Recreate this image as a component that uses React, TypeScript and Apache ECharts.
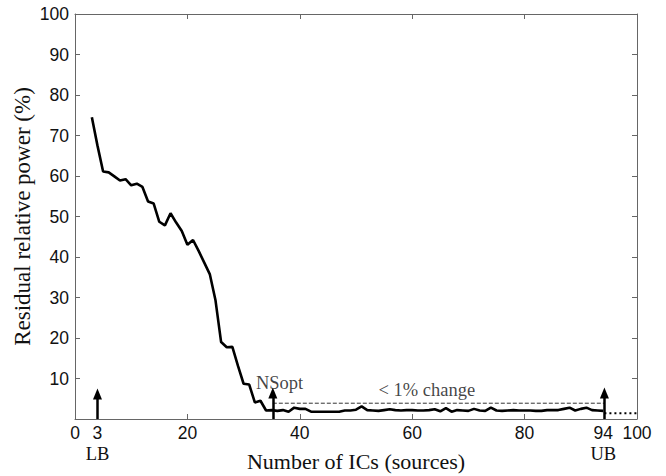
import React, { useEffect, useRef } from "react";
import * as echarts from "echarts";

const xValues = [
  3, 4, 5, 6, 7, 8, 9, 10, 11, 12, 13, 14, 15, 16, 17, 18, 19, 20, 21, 22, 23, 24,
  25, 26, 27, 28, 29, 30, 31, 32, 33, 34, 35, 36, 37, 38, 39, 40, 41, 42, 43, 44,
  45, 46, 47, 48, 49, 50, 51, 52, 53, 54, 55, 56, 57, 58, 59, 60, 61, 62, 63, 64,
  65, 66, 67, 68, 69, 70, 71, 72, 73, 74, 75, 76, 77, 78, 79, 80, 81, 82, 83, 84,
  85, 86, 87, 88, 89, 90, 91, 92, 93, 94,
];
const residualPower = [
  74.5, 67.5, 61.1, 60.9, 59.9, 58.9, 59.2, 57.7, 58.1, 57.3, 53.7, 53.2, 48.7, 47.8,
  50.8, 48.5, 46.4, 43.0, 44.2, 41.5, 38.6, 35.7, 29.3, 19.0, 17.7, 17.8, 13.1, 8.7,
  8.5, 4.1, 4.5, 2.1, 2.2, 2.0, 2.2, 1.8, 2.8, 2.5, 2.5, 1.8, 1.8, 1.8, 1.8, 1.8, 1.8,
  2.1, 2.1, 2.3, 3.1, 2.2, 2.1, 2.0, 2.2, 2.4, 2.2, 2.1, 2.2, 2.2, 2.1, 2.1, 2.2, 2.4,
  1.9, 2.7, 1.8, 2.2, 2.1, 2.0, 2.5, 2.1, 2.0, 2.8, 2.1, 2.0, 2.1, 2.2, 2.1, 2.1, 2.1,
  2.0, 2.0, 2.2, 2.2, 2.2, 2.5, 2.8, 2.1, 2.5, 2.8, 2.2, 2.1, 2.0,
];

const xTickLabels = [0, 4, 20, 40, 60, 80, 94, 100];
const xTickText: Record<number, string> = { 0: "0", 4: "3\n{s|LB}", 20: "20", 40: "40", 60: "60", 80: "80", 94: "94\n{s|UB}", 100: "100" };
const xTickMarks = [20, 40, 60, 80];

// arrows: [x, tipY]
const arrows = [
  [4, 6.2],
  [35.2, 6.4],
  [94.2, 6.4],
];
const thresholdLine = [
  [35.2, 3.9],
  [94.2, 3.9],
];
const tailLine = [
  [94.2, 1.4],
  [100, 1.4],
];
const annotations = [
  { text: "NSopt", x: 36.4, y: 8.9 },
  { text: "< 1% change", x: 62.6, y: 7.2 },
];

const SANS = "'Liberation Sans', Arial, sans-serif";
const SERIF = "'Liberation Serif', 'Times New Roman', serif";
const FRAME = "#666";

export default function App() {
  const ref = useRef<HTMLDivElement>(null);
  useEffect(() => {
    if (!ref.current) return;
    const chart = echarts.init(ref.current, null, { renderer: "svg" });
    const lineData = xValues.map((x, i) => [x, residualPower[i]]);
    chart.setOption({
      animation: false,
      backgroundColor: "#fff",
      grid: { left: 75, right: 29, top: 14, bottom: 57, outerBoundsMode: "none", containLabel: false },
      xAxis: [
        {
          type: "value",
          min: 0,
          max: 100,
          position: "bottom",
          name: "Number of ICs (sources)",
          nameLocation: "middle",
          nameGap: 31,
          nameMoveOverlap: false,
          nameTextStyle: { fontFamily: SERIF, fontSize: 22, color: "#111" },
          axisLine: { show: true, onZero: false, lineStyle: { color: FRAME, width: 1 } },
          axisTick: { show: true, inside: true, length: 5, customValues: xTickMarks, lineStyle: { color: FRAME } },
          axisLabel: {
            customValues: xTickLabels,
            formatter: (v: number) => xTickText[v] ?? String(v),
            fontFamily: SANS,
            fontSize: 17.5,
            color: "#111",
            margin: 4,
            lineHeight: 20,
            rich: { s: { fontFamily: SERIF, fontSize: 18.5, color: "#111", lineHeight: 22 } },
          },
          splitLine: { show: false },
        },
        {
          type: "value",
          min: 0,
          max: 100,
          position: "top",
          axisLine: { show: true, onZero: false, lineStyle: { color: FRAME, width: 1 } },
          axisTick: { show: true, inside: true, length: 5, customValues: xTickMarks, lineStyle: { color: FRAME } },
          axisLabel: { show: false },
          splitLine: { show: false },
        },
      ],
      yAxis: [
        {
          type: "value",
          min: 0,
          max: 100,
          interval: 10,
          position: "left",
          name: "Residual relative power (%)",
          nameLocation: "middle",
          nameGap: 41,
          nameMoveOverlap: false,
          nameTextStyle: { fontFamily: SERIF, fontSize: 23, color: "#111" },
          axisLine: { show: true, onZero: false, lineStyle: { color: FRAME, width: 1 } },
          axisTick: { show: true, inside: true, length: 5, lineStyle: { color: FRAME } },
          axisLabel: { showMinLabel: false, fontFamily: SANS, fontSize: 17.5, color: "#111", margin: 6 },
          splitLine: { show: false },
        },
        {
          type: "value",
          min: 0,
          max: 100,
          interval: 10,
          position: "right",
          axisLine: { show: true, onZero: false, lineStyle: { color: FRAME, width: 1 } },
          axisTick: { show: true, inside: true, length: 5, lineStyle: { color: FRAME } },
          axisLabel: { show: false },
          splitLine: { show: false },
        },
      ],
      series: [
        {
          type: "line",
          data: lineData,
          symbol: "none",
          lineStyle: { color: "#000", width: 2.6 },
          z: 5,
        },
        {
          type: "line",
          data: thresholdLine,
          symbol: "none",
          lineStyle: { color: "#333", width: 1, type: [4, 2] },
          z: 3,
        },
        {
          type: "line",
          data: tailLine,
          symbol: "none",
          lineStyle: { color: "#000", width: 2, type: [2, 3] },
          z: 3,
        },
        {
          type: "line",
          data: [],
          symbol: "none",
          markLine: {
            silent: true,
            symbol: ["none", "triangle"],
            symbolSize: [9, 11],
            label: { show: false },
            lineStyle: { color: "#000", width: 2.5, type: "solid" },
            data: arrows.map(([x, y]) => [{ coord: [x, 0] }, { coord: [x, y] }]),
          },
          z: 6,
        },
        {
          type: "scatter",
          data: annotations.map((a) => ({ value: [a.x, a.y], name: a.text })),
          symbolSize: 0,
          label: {
            show: true,
            position: "inside",
            formatter: (p: any) => p.name,
            fontFamily: SERIF,
            fontSize: 18.5,
            color: "#111",
          },
          z: 7,
        },
      ],
    });
    return () => chart.dispose();
  }, []);
  return <div ref={ref} style={{ position: "fixed", left: 0, top: 0, width: 666, height: 476 }} />;
}
